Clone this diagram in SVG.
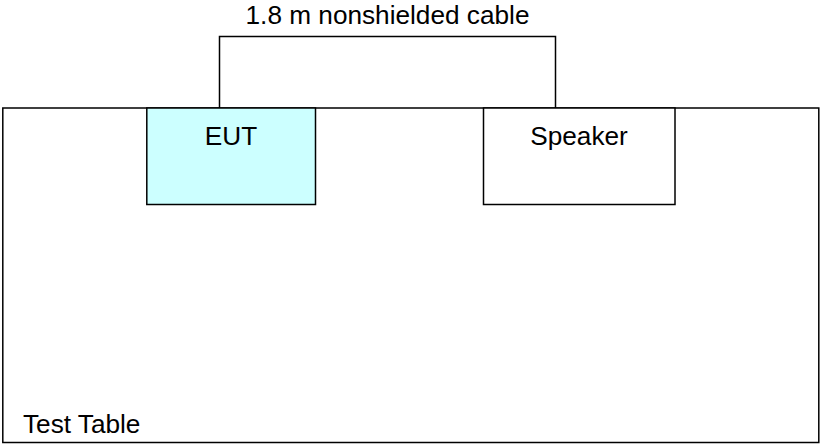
<svg xmlns="http://www.w3.org/2000/svg" width="820" height="444" viewBox="0 0 820 444">
<style>
.box{stroke:#000;stroke-width:1.5}
.lbl{font-family:"Liberation Sans",Arial,sans-serif;font-size:26.2px;fill:#000}
.wire{fill:none;stroke:#000;stroke-width:1.5}
</style>
<rect width="820" height="444" fill="#fff"/>
<g id="test-table">
<rect class="box" x="2.8" y="108" width="816" height="334.5" fill="#fff"/>
<text class="lbl" x="23" y="432.5">Test Table</text>
</g>
<g id="connectors">
<polyline class="wire" points="219.5,108 219.5,36.5 555.5,36.5 555.5,108"/>
<text class="lbl" x="387.5" y="24" text-anchor="middle">1.8 m nonshielded cable</text>
</g>
<g id="eut">
<rect class="box" x="146.8" y="108" width="168.7" height="96.5" fill="#CCFFFF"/>
<text class="lbl" x="231" y="145" text-anchor="middle">EUT</text>
</g>
<g id="speaker">
<rect class="box" x="483.5" y="108" width="191.5" height="96.5" fill="#fff"/>
<text class="lbl" x="579" y="145" text-anchor="middle">Speaker</text>
</g>
</svg>
